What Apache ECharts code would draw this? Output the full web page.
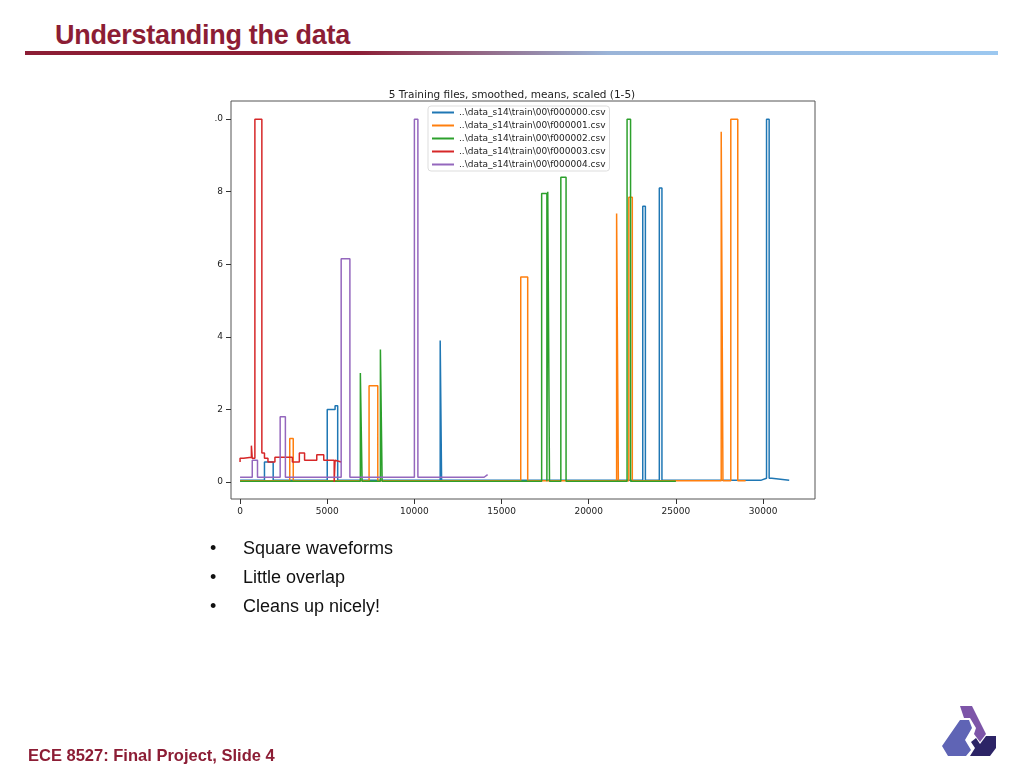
<!DOCTYPE html>
<html>
<head>
<meta charset="utf-8">
<script src="https://cdn.jsdelivr.net/npm/echarts@6/dist/echarts.min.js"></script>
<style>
body { margin: 0; background: #fff; font-family: "Liberation Sans", Arial, sans-serif; }
.slide { position: relative; width: 1024px; height: 768px; overflow: hidden; }
.title { position: absolute; left: 55px; top: 20px; font-size: 27px; font-weight: bold; color: #8c1d35; letter-spacing: -0.3px; }
.rule { position: absolute; left: 25px; top: 51px; width: 973px; height: 4px;
  background: linear-gradient(to right, #8c1d35 0%, #8c1d35 34%, #9ab4d8 60%, #9cc8f0 100%); }
#chart { position: absolute; left: 0; top: 0; width: 1024px; height: 768px; }
.bullets { position: absolute; left: 210px; top: 534px; font-size: 18px; color: #111; line-height: 29px; }
.bullets span { display: inline-block; width: 33px; }
.foot { position: absolute; left: 28px; top: 746px; font-size: 16.5px; font-weight: bold; color: #8c1d35; }
.logo { position: absolute; left: 938px; top: 704px; }
</style>
</head>
<body>
<div class="slide">
  <div class="title">Understanding the data</div>
  <div class="rule"></div>
  <div id="chart"></div>
  <div class="bullets">
    <div><span>•</span>Square waveforms</div>
    <div><span>•</span>Little overlap</div>
    <div><span>•</span>Cleans up nicely!</div>
  </div>
  <div class="foot">ECE 8527: Final Project, Slide 4</div>
  <svg class="logo" width="62" height="54" viewBox="0 0 62 54">
    <polygon points="22,2 34,2 48,30 42,38 36,30 38,24 32,14 26,14" fill="#7d55a8"/>
    <polygon points="22,16 31,16 34,24 27,36 33,46 28,52 10,52 4,42" fill="#5f64b5"/>
    <polygon points="38,34 42,40 48,32 58,32 58,44 52,52 32,52 37,44 33,38" fill="#2c2466"/>
  </svg>
</div>
<script>
// 5 training files: x sample index, y scaled mean
var x0 = [0, 1400, 1400, 1900, 1900, 5000, 5000, 5450, 5450, 5600, 5600, 11480, 11480, 11560, 11560, 23100, 23100, 23250, 23250, 24050, 24050, 24200, 24200, 29900, 29900, 30200, 30200, 30350, 30350, 30500, 30500, 31500];
var y0 = [0.005, 0.005, 0.055, 0.055, 0.005, 0.005, 0.2, 0.2, 0.21, 0.21, 0.005, 0.005, 0.39, 0.39, 0.005, 0.005, 0.76, 0.76, 0.005, 0.005, 0.81, 0.81, 0.005, 0.005, 0.01, 0.01, 1.0, 1.0, 0.01, 0.01, 0.005, 0.005];
var x1 = [0, 2850, 2850, 3050, 3050, 7400, 7400, 7900, 7900, 16100, 16100, 16500, 16500, 21600, 21600, 21700, 21700, 22300, 22300, 22500, 22500, 27600, 27600, 27700, 27700, 28150, 28150, 28550, 28550, 29000];
var y1 = [0.003, 0.003, 0.12, 0.12, 0.003, 0.003, 0.265, 0.265, 0.003, 0.003, 0.565, 0.565, 0.003, 0.003, 0.74, 0.74, 0.003, 0.003, 0.785, 0.785, 0.003, 0.003, 0.965, 0.965, 0.003, 0.003, 1.0, 1.0, 0.003, 0.003];
var x2 = [0, 6900, 6900, 7000, 7000, 8050, 8050, 8150, 8150, 17300, 17300, 17600, 17600, 17650, 17650, 17750, 17750, 18400, 18400, 18700, 18700, 22200, 22200, 22400, 22400, 25000];
var y2 = [0.002, 0.002, 0.3, 0.3, 0.002, 0.002, 0.365, 0.365, 0.002, 0.002, 0.795, 0.795, 0.002, 0.002, 0.8, 0.8, 0.002, 0.002, 0.84, 0.84, 0.002, 0.002, 1.0, 1.0, 0.002, 0.002];
var x3 = [0, 0, 200, 200, 650, 650, 700, 700, 850, 850, 1250, 1250, 1400, 1400, 1600, 1600, 2000, 2000, 3000, 3000, 3400, 3400, 3700, 3700, 4400, 4400, 4800, 4800, 5400, 5400, 5450, 5450, 5800];
var y3 = [0.055, 0.065, 0.065, 0.068, 0.068, 0.1, 0.1, 0.065, 0.065, 1.0, 1.0, 0.08, 0.08, 0.065, 0.065, 0.055, 0.055, 0.068, 0.068, 0.055, 0.055, 0.08, 0.08, 0.06, 0.06, 0.075, 0.075, 0.06, 0.06, 0.0, 0.0, 0.06, 0.055];
var x4 = [0, 700, 700, 1000, 1000, 2300, 2300, 2600, 2600, 5800, 5800, 6300, 6300, 10000, 10000, 10200, 10200, 14000, 14200];
var y4 = [0.013, 0.013, 0.06, 0.06, 0.013, 0.013, 0.18, 0.18, 0.013, 0.013, 0.615, 0.615, 0.013, 0.013, 1.0, 1.0, 0.013, 0.013, 0.02];
var names = ['..\\data_s14\\train\\00\\f000000.csv', '..\\data_s14\\train\\00\\f000001.csv', '..\\data_s14\\train\\00\\f000002.csv', '..\\data_s14\\train\\00\\f000003.csv', '..\\data_s14\\train\\00\\f000004.csv'];
var xTicks = [0, 5000, 10000, 15000, 20000, 25000, 30000];
var yTicks = [0, 0.2, 0.4, 0.6, 0.8, 1.0];
var yLabels = ['0', '2', '4', '6', '8', '.0'];

function pairs(xs, ys) {
    var out = [];
    for (var i = 0; i < xs.length; i++) out.push([xs[i], ys[i]]);
    return out;
}
var xs = [x0, x1, x2, x3, x4], ys = [y0, y1, y2, y3, y4];
var series = [];
for (var i = 0; i < 5; i++) {
    series.push({ name: names[i], type: 'line', data: pairs(xs[i], ys[i]), showSymbol: false, lineStyle: { width: 1.5 }, animation: false });
}

var myChart = echarts.init(document.getElementById('chart'));
var option = {
    color: ['#1f77b4', '#ff7f0e', '#2ca02c', '#d62728', '#9467bd'],
    textStyle: { fontFamily: 'DejaVu Sans' },
    title: { text: '5 Training files, smoothed, means, scaled (1-5)', left: 'center', top: 85, textStyle: { fontSize: 10.5, fontWeight: 'normal', color: '#222' } },
    legend: {
        orient: 'vertical', left: 428, top: 106, itemWidth: 22, itemHeight: 2, itemGap: 4, icon: 'rect',
        backgroundColor: '#fff', borderColor: '#ddd', borderWidth: 1, borderRadius: 3, padding: [2, 4, 2, 4],
        textStyle: { fontSize: 9, color: '#222' }
    },
    grid: { left: 231, top: 101, width: 584, height: 398, show: true, borderColor: '#555', borderWidth: 1 },
    xAxis: {
        type: 'value', min: -520, max: 32980,
        axisLine: { show: false, onZero: false }, splitLine: { show: false },
        axisTick: { show: true, customValues: xTicks, lineStyle: { color: '#333' } },
        axisLabel: { customValues: xTicks, fontSize: 9, color: '#222', formatter: function (v) { return String(v); } }
    },
    yAxis: {
        type: 'value', min: -0.047, max: 1.05,
        axisLine: { show: false, onZero: false }, splitLine: { show: false },
        axisTick: { show: true, customValues: yTicks, lineStyle: { color: '#333' } },
        axisLabel: { customValues: yTicks, fontSize: 9, color: '#222', formatter: function (v) { return yLabels[Math.round(v * 5)]; } }
    },
    series: series
};
myChart.setOption(option);
</script>
</body>
</html>
